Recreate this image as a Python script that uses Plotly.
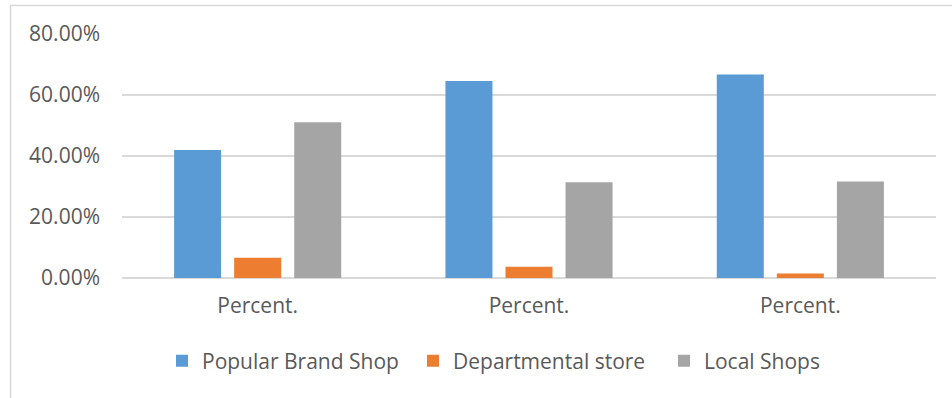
import plotly.graph_objects as go

# Survey shares per shop type, one group per "Percent." column
categories = ["Percent.", "Percent.", "Percent."]
popular_brand_shop = [0.420, 0.646, 0.667]
departmental_store = [0.066, 0.037, 0.015]
local_shops = [0.511, 0.314, 0.316]

series = [
    ("Popular Brand Shop", popular_brand_shop, "#5B9BD5"),
    ("Departmental store", departmental_store, "#ED7D31"),
    ("Local Shops", local_shops, "#A5A5A5"),
]

positions = list(range(len(categories)))
font_family = "Open Sans, Noto Sans, sans-serif"
text_color = "#595959"
grid_color = "#D9D9D9"
font_size = 21

fig = go.Figure()
for name, values, color in series:
    fig.add_trace(go.Bar(
        name=name,
        x=positions,
        y=values,
        marker=dict(color=color, line=dict(width=0)),
        hoverinfo="skip",
    ))

W, H = 952, 398
L, R, T, B = 122, 16, 34, 120
pw, ph = W - L - R, H - T - B

def px_x(v):
    return (v - L) / pw

def px_y(v):
    return (H - B - v) / ph

fig.update_layout(
    width=W,
    height=H,
    margin=dict(l=L, r=R, t=T, b=B, pad=0),
    paper_bgcolor="white",
    plot_bgcolor="white",
    barmode="group",
    bargap=0.336,
    bargroupgap=0.217,
    font=dict(family=font_family, size=font_size, color=text_color),
    showlegend=True,
    legend=dict(
        orientation="h",
        x=px_x(162),
        xanchor="left",
        y=px_y(361),
        yanchor="middle",
        entrywidth=206,
        font=dict(family=font_family, size=font_size, color=text_color),
        bgcolor="rgba(0,0,0,0)",
        traceorder="normal",
    ),
    xaxis=dict(
        range=[-0.5, 2.5],
        tickmode="array",
        tickvals=positions,
        ticktext=categories,
        showgrid=False,
        zeroline=False,
        showline=False,
        ticks="",
        ticklabelstandoff=13,
        tickfont=dict(family=font_family, size=font_size, color=text_color),
        fixedrange=True,
    ),
    yaxis=dict(
        range=[0, 0.8],
        tickmode="linear",
        tick0=0,
        dtick=0.2,
        tickformat=".2%",
        showgrid=True,
        gridcolor=grid_color,
        gridwidth=1.5,
        zeroline=True,
        zerolinecolor=grid_color,
        zerolinewidth=1.5,
        showline=False,
        ticks="",
        ticklabelstandoff=21,
        tickfont=dict(family=font_family, size=font_size, color=text_color),
        fixedrange=True,
    ),
    shapes=[
        # outer chart frame (top and left edges visible)
        dict(type="line", xref="paper", yref="paper",
             x0=px_x(10), x1=px_x(960), y0=px_y(5.5), y1=px_y(5.5),
             line=dict(color=grid_color, width=1.5)),
        dict(type="line", xref="paper", yref="paper",
             x0=px_x(10.5), x1=px_x(10.5), y0=px_y(5), y1=px_y(410),
             line=dict(color=grid_color, width=1.5)),
    ],
)

fig.write_html("out.html")
